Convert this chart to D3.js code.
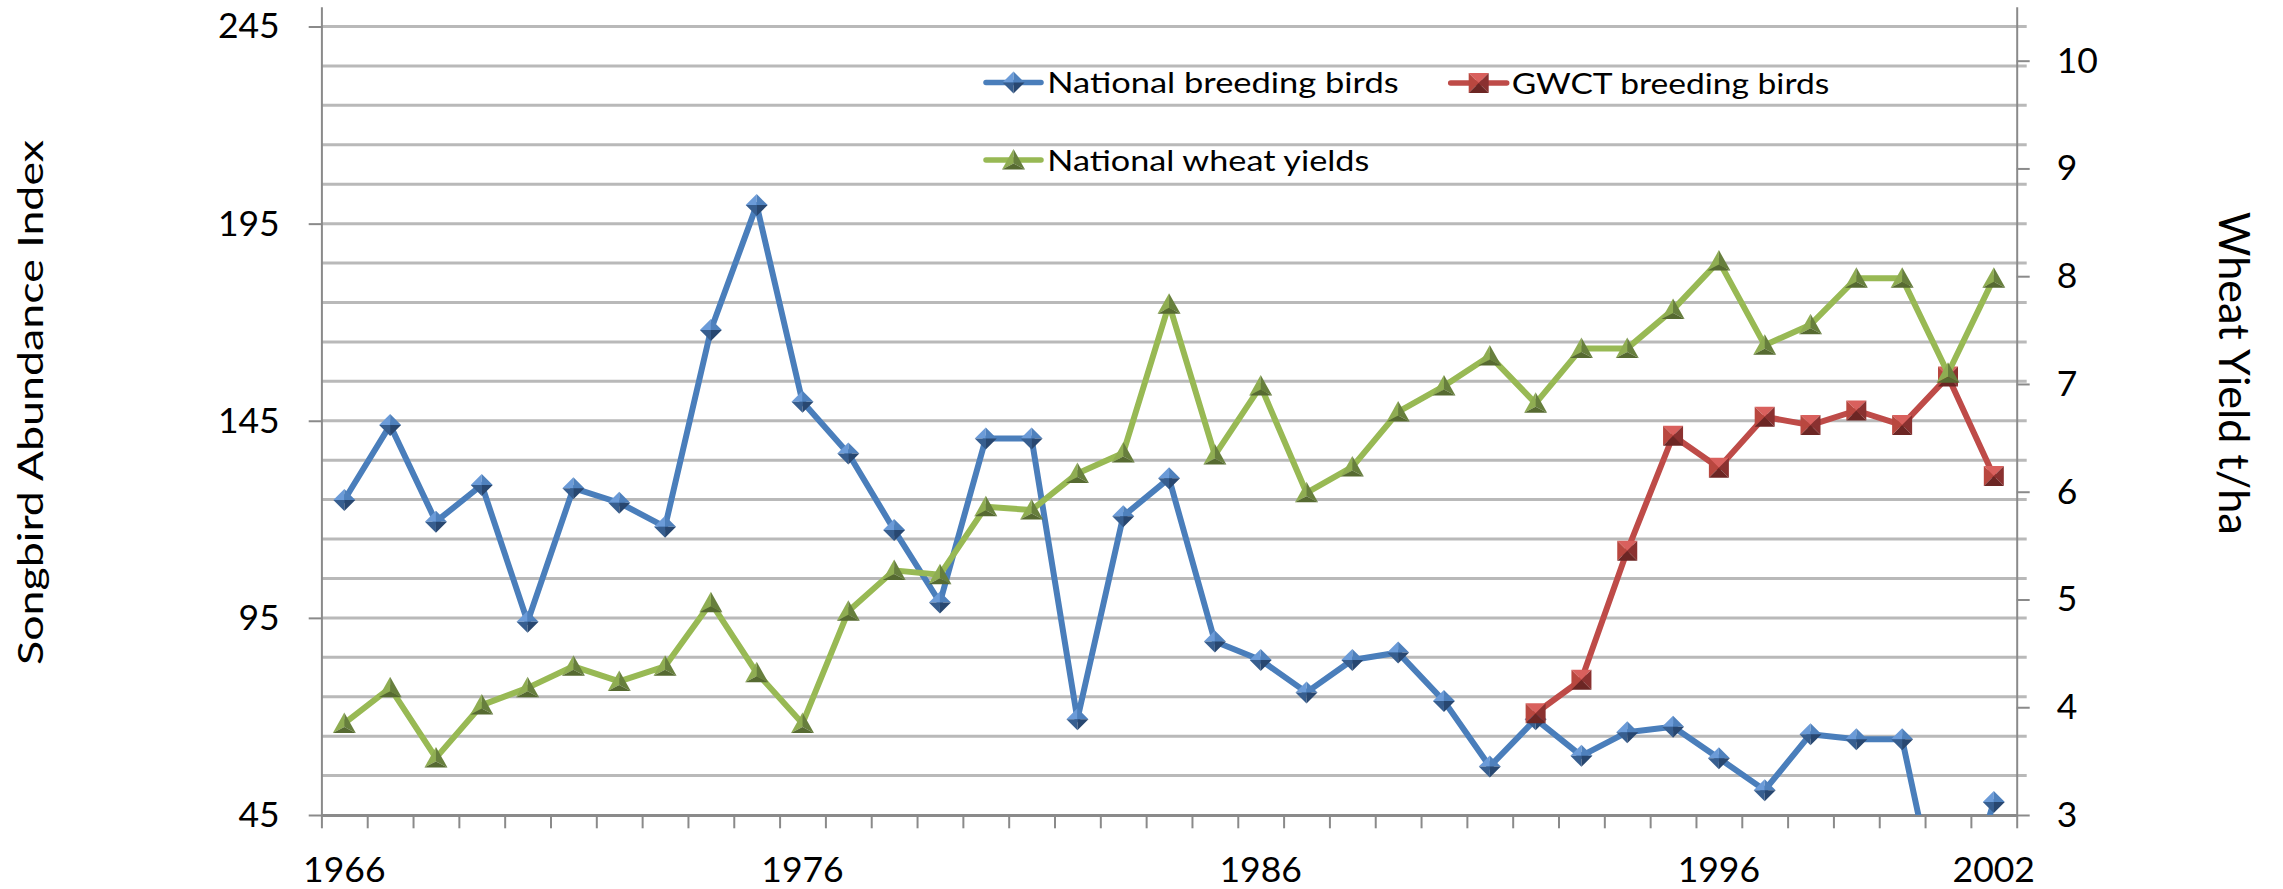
<!DOCTYPE html>
<html>
<head>
<meta charset="utf-8">
<script src="https://cdn.jsdelivr.net/npm/d3@7"></script>
<style>
  html, body { margin: 0; padding: 0; background: #fff; }
  svg { display: block; }
  text { font-family: Lato, "Open Sans", sans-serif; fill: #000; }
</style>
</head>
<body>
<svg id="chart" width="2283" height="889"></svg>
<script>
// ---------------- data ----------------
const years = d3.range(1966, 2003);
const xLabelYears = [1966, 1976, 1986, 1996, 2002];
const leftTicks = [45, 95, 145, 195, 245];
const rightTicks = [3, 4, 5, 6, 7, 8, 9, 10];

// National breeding birds (left axis). 2001: no survey, plotted below axis minimum (clipped)
const nationalBirds = [124.9, 143.9, 119.4, 128.7, 94.0, 127.9, 124.2, 118.1, 168.0, 199.7,
  149.8, 136.7, 117.3, 98.9, 140.5, 140.5, 69.3, 120.8, 130.4, 89.0,
  84.3, 76.1, 84.3, 86.2, 73.9, 57.3, 69.3, 60.0, 66.0, 67.4,
  59.4, 51.3, 65.5, 64.2, 64.2, 10, 48.3];
// GWCT breeding birds (left axis), 1992-2002
const gwctBirds = [null, null, null, null, null, null, null, null, null, null,
  null, null, null, null, null, null, null, null, null, null,
  null, null, null, null, null, null, 70.8, 79.3, 112.0, 141.2,
  133.1, 146.0, 143.9, 147.6, 143.9, 156.2, 131.0];
// National wheat yields t/ha (right axis)
const wheatYields = [3.85, 4.18, 3.53, 4.02, 4.18, 4.38, 4.24, 4.38, 4.97, 4.32,
  3.85, 4.89, 5.27, 5.23, 5.86, 5.83, 6.17, 6.36, 7.74, 6.34,
  6.98, 5.99, 6.23, 6.74, 6.98, 7.26, 6.82, 7.33, 7.33, 7.69,
  8.14, 7.36, 7.55, 7.98, 7.98, 7.10, 7.98];

const seriesNames = ["National breeding birds", "GWCT breeding birds", "National wheat yields"];
const leftTitle = "Songbird Abundance Index";
const rightTitle = "Wheat Yield t/ha";

// ---------------- layout ----------------
const L = 321.4, R = 2016.7, T = 6.8, B = 815;
const svg = d3.select("#chart");

const x = d3.scaleBand().domain(years).range([L, R]).padding(0);
const xi = d3.scaleLinear().domain([0, years.length]).range([L, R]);
const yL = d3.scaleLinear().domain([45, 250]).range([B, T]);
const yR = d3.scaleLinear().domain([3, 10.5]).range([B, T]);
const cx = d => x(d) + x.bandwidth() / 2;

const gridColor = "#b9b9b9", axisColor = "#8a8a8a";

// gridlines (every 10 on left axis)
svg.append("g").selectAll("line").data(d3.range(55, 250, 10)).join("line")
  .attr("x1", L).attr("x2", R + 10)
  .attr("y1", d => yL(d)).attr("y2", d => yL(d))
  .attr("stroke", gridColor).attr("stroke-width", 3);

// left axis
const gLeft = svg.append("g").attr("transform", `translate(${L},0)`)
  .call(d3.axisLeft(yL).tickValues(leftTicks).tickSize(12.7).tickPadding(29).tickSizeOuter(0));
gLeft.select(".domain").attr("stroke", axisColor).attr("stroke-width", 2);
gLeft.selectAll(".tick line").attr("stroke", axisColor).attr("stroke-width", 2);
gLeft.selectAll(".tick text").attr("font-size", 35.5).attr("font-family", "Lato");

// right axis
const gRight = svg.append("g").attr("transform", `translate(${R},0)`)
  .call(d3.axisRight(yR).tickValues(rightTicks).tickSize(13).tickPadding(27).tickSizeOuter(0));
gRight.select(".domain").attr("stroke", axisColor).attr("stroke-width", 2);
gRight.selectAll(".tick line").attr("stroke", axisColor).attr("stroke-width", 2);
gRight.selectAll(".tick text").attr("font-size", 35.5).attr("font-family", "Lato");

// bottom axis: boundary ticks
const gTicks = svg.append("g").attr("transform", `translate(0,${B})`)
  .call(d3.axisBottom(xi).tickValues(d3.range(0, years.length + 1)).tickFormat("").tickSize(13.3).tickSizeOuter(0));
gTicks.select(".domain").attr("stroke", axisColor).attr("stroke-width", 3);
gTicks.selectAll(".tick line").attr("stroke", axisColor).attr("stroke-width", 2);

// bottom axis labels
const gLab = svg.append("g").attr("transform", `translate(0,${B})`)
  .call(d3.axisBottom(x).tickValues(xLabelYears).tickSize(0).tickPadding(41.7));
gLab.select(".domain").remove();
gLab.selectAll(".tick text").attr("font-size", 35.5).attr("font-family", "Lato");

// axis titles
svg.append("text")
  .attr("transform", `translate(42.7,402.5) rotate(-90)`)
  .attr("text-anchor", "middle").attr("font-size", 35)
  .attr("textLength", 525).attr("lengthAdjust", "spacingAndGlyphs")
  .text(leftTitle);
svg.append("text")
  .attr("transform", `translate(2219.3,373.3) rotate(90)`)
  .attr("text-anchor", "middle").attr("font-size", 42.5)
  .attr("textLength", 323).attr("lengthAdjust", "spacingAndGlyphs")
  .text(rightTitle);

// clip to plot area
svg.append("clipPath").attr("id", "plotclip")
  .append("rect").attr("x", L).attr("y", T).attr("width", R - L).attr("height", B - T);
const plot = svg.append("g").attr("clip-path", "url(#plotclip)");

// marker shapes
function diamond(g) {
  const s = 11;
  const T_ = [0, -s], Rr = [s, 0], Bb = [0, s], Ll = [-s, 0], C = [0, 0];
  const faces = [[T_, Ll, C, "#6b9bd8"], [T_, Rr, C, "#4f81bd"], [Ll, Bb, C, "#375e8f"], [Rr, Bb, C, "#284770"]];
  faces.forEach(f => g.append("path").attr("d", `M${f[0]}L${f[1]}L${f[2]}Z`).attr("fill", f[3]));
}
function square(g) {
  const s = 10;
  const TL = [-s, -s], TR = [s, -s], BR = [s, s], BL = [-s, s], C = [0, 0];
  const faces = [[TL, TR, C, "#d9605d"], [TL, BL, C, "#b9473f"], [TR, BR, C, "#8a3130"], [BL, BR, C, "#6c2624"]];
  faces.forEach(f => g.append("path").attr("d", `M${f[0]}L${f[1]}L${f[2]}Z`).attr("fill", f[3]));
}
function triangle(g) {
  const A = [0, -11], BL = [-11.5, 9.5], BR = [11.5, 9.5], C = [0, 3.5];
  const faces = [[A, BL, C, "#8fad52"], [A, BR, C, "#677f3d"], [BL, BR, C, "#566a31"]];
  faces.forEach(f => g.append("path").attr("d", `M${f[0]}L${f[1]}L${f[2]}Z`).attr("fill", f[3]));
}

function drawSeries(values, yScale, color, marker) {
  const data = years.map((yr, i) => ({ yr, v: values[i] }));
  const line = d3.line().defined(d => d.v != null)
    .x(d => cx(d.yr)).y(d => yScale(d.v));
  plot.append("path").datum(data).attr("d", line)
    .attr("fill", "none").attr("stroke", color).attr("stroke-width", 6)
    .attr("stroke-linejoin", "round").attr("stroke-linecap", "round");
  plot.append("g").selectAll("g").data(data.filter(d => d.v != null)).join("g")
    .attr("transform", d => `translate(${cx(d.yr)},${yScale(d.v)})`)
    .each(function () { marker(d3.select(this)); });
}

drawSeries(nationalBirds, yL, "#4a7ebb", diamond);
drawSeries(gwctBirds, yL, "#be4b48", square);
drawSeries(wheatYields, yR, "#98b954", triangle);

// legend
const legend = [
  { name: seriesNames[0], color: "#4a7ebb", marker: diamond, x1: 986, x2: 1041, y: 82.5, tx: 1047.3, tl: 351.4 },
  { name: seriesNames[1], color: "#be4b48", marker: square, x1: 1450.7, x2: 1506.7, y: 83, tx: 1511.7, tl: 317.6 },
  { name: seriesNames[2], color: "#98b954", marker: triangle, x1: 986, x2: 1041, y: 160, tx: 1047.3, tl: 322 }
];
legend.forEach(l => {
  const g = svg.append("g");
  g.append("line").attr("x1", l.x1).attr("x2", l.x2).attr("y1", l.y).attr("y2", l.y)
    .attr("stroke", l.color).attr("stroke-width", 5.5).attr("stroke-linecap", "round");
  const m = g.append("g").attr("transform", `translate(${(l.x1 + l.x2) / 2},${l.y})`);
  l.marker(m);
  g.append("text").attr("x", l.tx).attr("y", l.y + 10.8)
    .attr("font-size", 29).attr("textLength", l.tl).attr("lengthAdjust", "spacingAndGlyphs")
    .text(l.name);
});
</script>
</body>
</html>
